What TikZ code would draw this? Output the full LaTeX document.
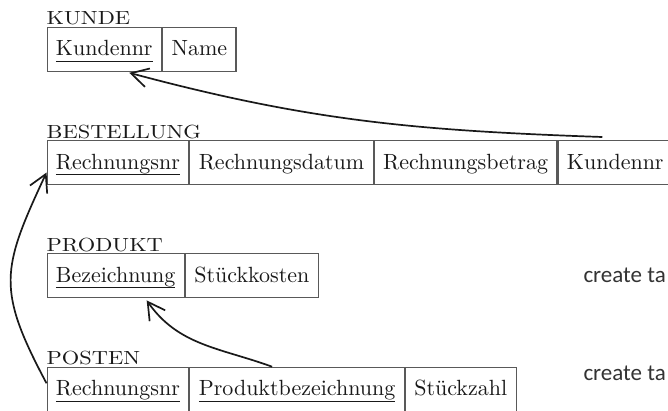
\documentclass[tikz,border=0pt]{standalone}
\usepackage{fontspec}
\usetikzlibrary{positioning, arrows.meta}
\setmainfont{lmroman10-regular.otf}
\newfontfamily\tabfont{lmroman10-regular.otf}[FakeStretch=1.18]
\newfontfamily\uifont{Carlito}
% primary key: text with a rule below it
\newcommand\keyattr[1]{\setbox0\hbox{#1}\rlap{\vrule height -4.8pt depth 6pt width \wd0}\box0}

\begin{document}
\begin{tikzpicture}[x=1pt, y=1pt]
\tikzstyle{cell} = [draw=black!65, line width=1.1pt, text=black!90, font=\fontsize{22}{26}\selectfont, minimum height=44pt, inner xsep=8.9pt, text height=16pt, text depth=3pt]
\tikzstyle{tabname} = [inner sep=0pt, anchor=base west, text=black!90, font=\tabfont\fontsize{19}{22}\selectfont]
\tikzstyle{ref} = [-{Straight Barb[length=17pt,width=19pt]}, line width=1.7pt, black!90]
\tikzstyle{hint} = [inner sep=0pt, anchor=base west, text=black!80, font=\uifont\fontsize{23}{27}\selectfont]
\clip[use as bounding box] (0,0) rectangle (668,-410);

% KUNDE
\node[cell, anchor=north west] (kknr) at (46.5,-26.7) {\keyattr{Kundennr}};
\node[cell, right=0pt of kknr] (kname) {Name};
\node[tabname] (tkunde) at ([yshift=2pt]kknr.north west) {KUNDE};

% BESTELLUNG
\node[cell, anchor=north west] (bnr) at (46.5,-140) {\keyattr{Rechnungsnr}};
\node[cell, right=0pt of bnr] (bdatum) {Rechnungsdatum};
\node[cell, right=0pt of bdatum] (bbetrag) {Rechnungsbetrag};
\node[cell, right=0pt of bbetrag] (bknr) {Kundennr};
\node[tabname] (tbest) at ([yshift=2pt]bnr.north west) {BESTELLUNG};

% PRODUKT
\node[cell, anchor=north west] (pbez) at (46.5,-253.3) {\keyattr{Bezeichnung}};
\node[cell, right=0pt of pbez] (pkosten) {Stückkosten};
\node[tabname] (tprod) at ([yshift=2pt]pbez.north west) {PRODUKT};

% POSTEN
\node[cell, anchor=north west] (onr) at (46.5,-366.7) {\keyattr{Rechnungsnr}};
\node[cell, right=0pt of onr] (obez) {\keyattr{Produktbezeichnung}};
\node[cell, right=0pt of obez] (ozahl) {Stückzahl};
\node[tabname] (tpost) at ([yshift=2pt]onr.north west) {POSTEN};

\node[hint] (hprod) at (583.3,-282) {create ta};
\node[hint] (hpost) at (583.3,-380) {create ta};

% foreign keys
\draw[ref] ([xshift=-13pt,yshift=3pt]bknr.north) to[out=178, in=-15] ([xshift=25pt,yshift=-1pt]kknr.south);
\draw[ref] ([yshift=6pt]onr.west) to[out=118, in=-115, looseness=1.3] ([yshift=-10pt]bnr.west);
\draw[ref] ([xshift=-25pt]obez.north) to[out=160, in=-55] ([xshift=31pt,yshift=-2pt]pbez.south);
\end{tikzpicture}
\end{document}
